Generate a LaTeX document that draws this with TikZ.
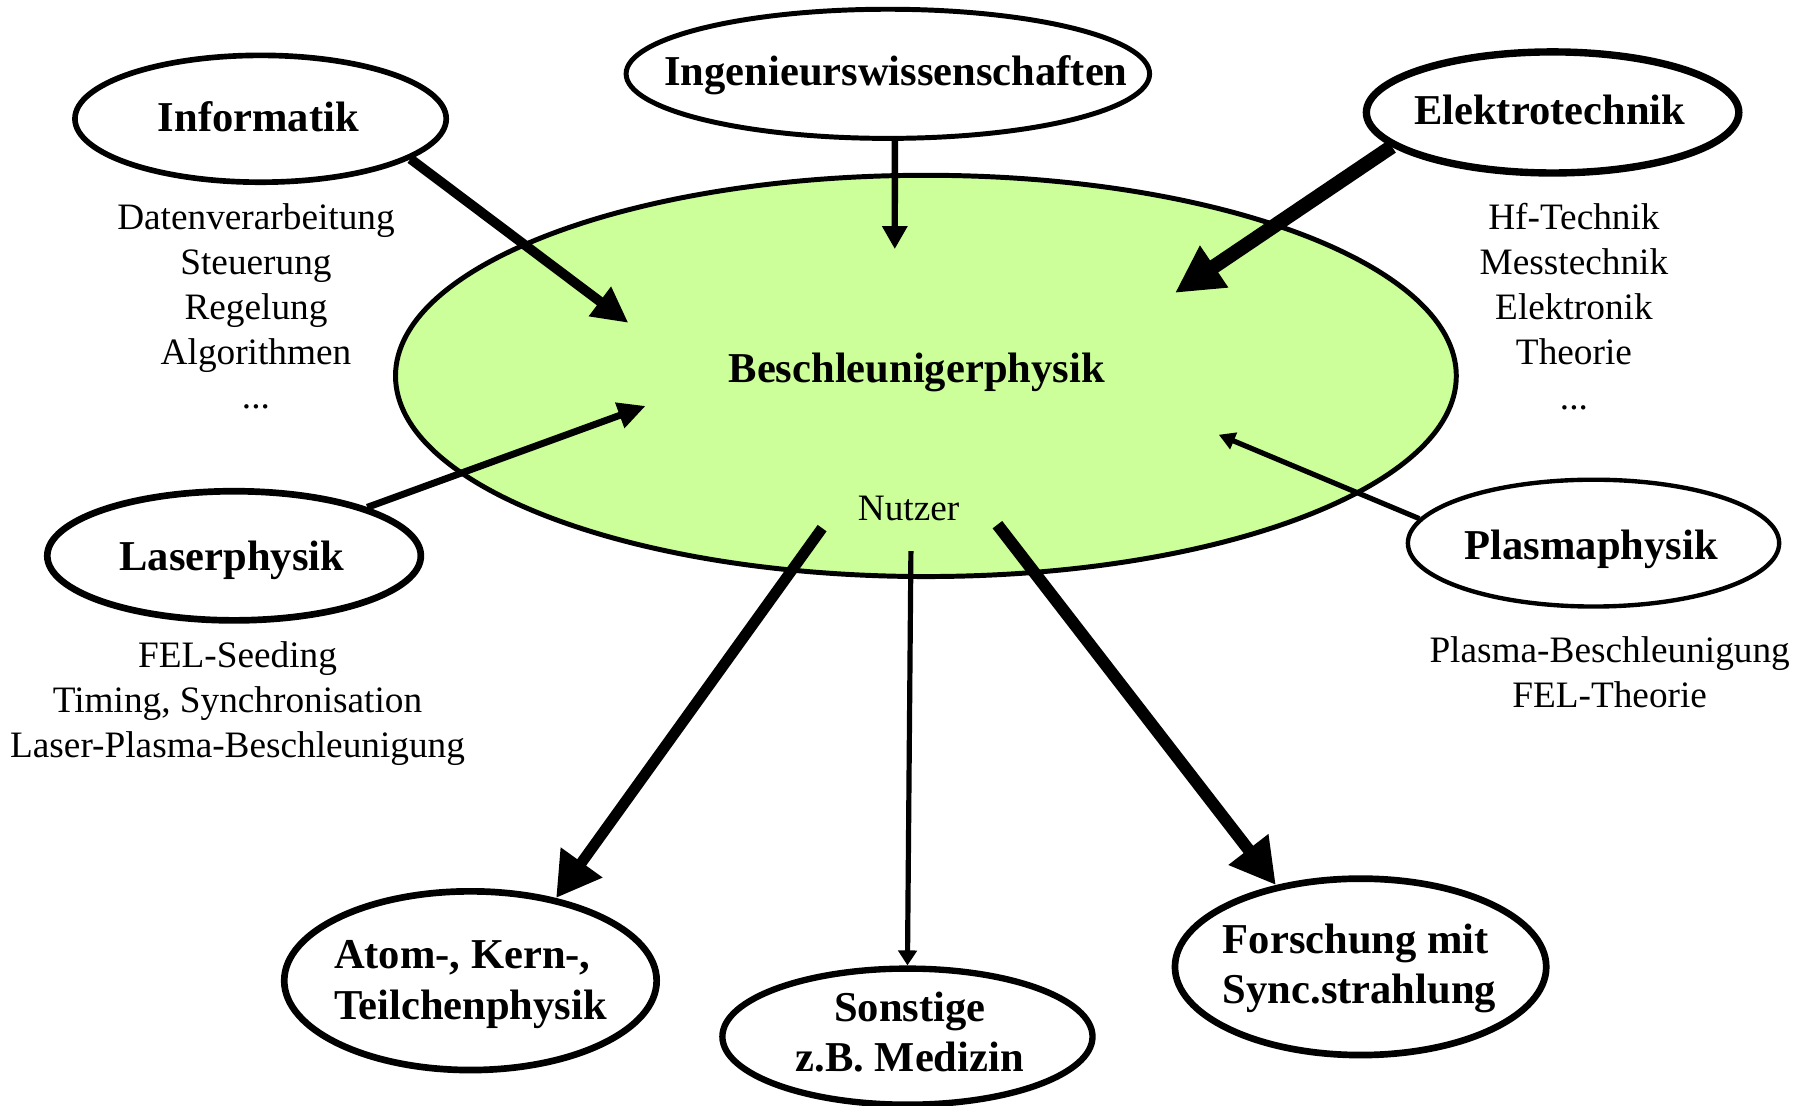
\documentclass[tikz,border=0pt]{standalone}
\usepackage{fontspec}
\setmainfont{Liberation Serif}
\usepackage{tikz}
\usetikzlibrary{arrows.meta,shapes.geometric}
\usepackage{xcolor}
\definecolor{beschgreen}{RGB}{204,255,153}

\begin{document}
\begin{tikzpicture}[x=0.1mm,y=-0.1mm,
  fach/.style={draw,ellipse,inner sep=0pt,fill=white},
  hd/.style={font=\fontsize{10.5}{12.5}\selectfont\bfseries,inner sep=0pt},
  lst/.style={font=\fontsize{9.2}{11.1}\selectfont,align=center,inner sep=0pt},
  arr/.style n args={3}{line width=#1,-{Triangle[length=#2,width=#3]}}]
\useasboundingbox (0,0) rectangle (1568,959);
\node[fach,fill=beschgreen,line width=0.43mm,minimum width=92mm,minimum height=34.8mm] (bp) at (803,326) {};
\node[hd,anchor=base] (bpT) at (795,332) {Beschleunigerphysik};
\node[lst,anchor=base] (nutzer) at (788,451.5) {Nutzer};
\node[fach,line width=0.49mm,minimum width=32.2mm,minimum height=11mm] (inf) at (226,103) {};
\node[hd,anchor=base] (infT) at (224,114) {Informatik};
\node[fach,line width=0.43mm,minimum width=45.4mm,minimum height=11.2mm] (ing) at (770,64) {};
\node[hd,anchor=base] (ingT) at (777,74) {Ingenieurswissenschaften};
\node[fach,line width=0.64mm,minimum width=32.3mm,minimum height=10.5mm] (ele) at (1346.5,97.5) {};
\node[hd,anchor=base] (eleT) at (1344,108) {Elektrotechnik};
\node[fach,line width=0.58mm,minimum width=32.4mm,minimum height=11.2mm] (las) at (203,482) {};
\node[hd,anchor=base] (lasT) at (201,495) {Laserphysik};
\node[fach,line width=0.38mm,minimum width=32.2mm,minimum height=11mm] (pla) at (1382,471) {};
\node[hd,anchor=base] (plaT) at (1380,485) {Plasmaphysik};
\node[fach,line width=0.58mm,minimum width=32.3mm,minimum height=15.5mm] (atom) at (408,850.5) {};
\node[hd,align=left] (atomT) at (408,854) {Atom-, Kern-,\\Teilchenphysik};
\node[fach,line width=0.55mm,minimum width=32.1mm,minimum height=11.8mm] (son) at (787,899) {};
\node[hd,align=center] (sonT) at (789,895) {Sonstige\\z.B. Medizin};
\node[fach,line width=0.58mm,minimum width=32.2mm,minimum height=15.3mm] (fors) at (1180,838.5) {};
\node[hd,align=left] (forsT) at (1179,840) {Forschung mit\\Sync.strahlung};
\node[lst,anchor=north] (infL) at (222,175.5) {Datenverarbeitung\\Steuerung\\Regelung\\Algorithmen\\...};
\node[lst,anchor=north] (eleL) at (1365,175.5) {Hf-Technik\\Messtechnik\\Elektronik\\Theorie\\...};
\node[lst,anchor=north] (lasL) at (206,555.5) {FEL-Seeding\\Timing, Synchronisation\\Laser-Plasma-Beschleunigung};
\node[lst,anchor=north] (plaL) at (1396,551.5) {Plasma-Beschleunigung\\FEL-Theorie};
\coordinate (tipInf) at (545,280);
\coordinate (tipIng) at (776,216);
\coordinate (tipEle) at (1019,254);
\coordinate (tipLas) at (560,352);
\coordinate (tipPla) at (1057,377);
\coordinate (fromAtom) at (713,458);
\coordinate (fromSon) at (790,478);
\coordinate (fromFors) at (865,455);
\draw[arr={0.85mm}{3.1mm}{3.0mm}] (inf.-15) -- (tipInf);
\draw[arr={0.55mm}{2.0mm}{2.1mm}] (ing.-84) -- (tipIng);
\draw[arr={1.25mm}{4.1mm}{4.1mm}] (ele.-168.8) -- (tipEle);
\draw[arr={0.6mm}{2.4mm}{2.2mm}] (las.20.4) -- (tipLas);
\draw[arr={0.45mm}{1.4mm}{1.5mm}] (pla.172) -- (tipPla);
\draw[arr={0.95mm}{3.8mm}{4.2mm}] (fromAtom) -- (atom.44.6);
\draw[arr={0.45mm}{1.3mm}{1.6mm}] (fromSon) -- (son.90);
\draw[arr={1.05mm}{3.9mm}{4.1mm}] (fromFors) -- (fors.136.6);
\end{tikzpicture}
\end{document}
